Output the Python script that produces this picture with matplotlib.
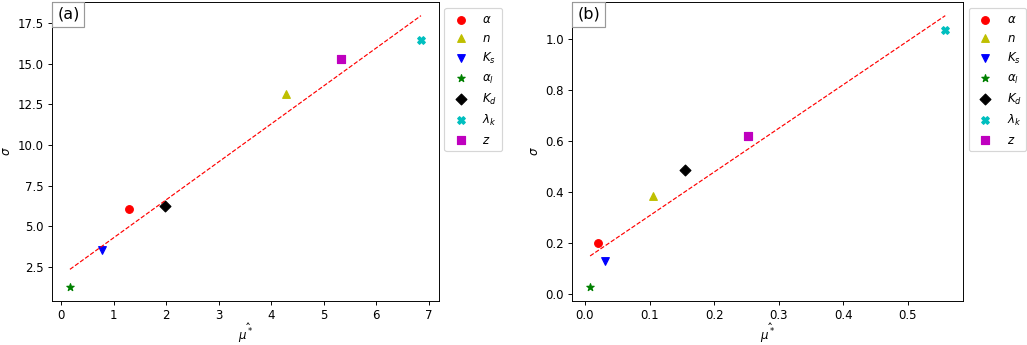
import matplotlib
matplotlib.use("Agg")
import matplotlib.pyplot as plt
import numpy as np
from matplotlib.offsetbox import AnchoredText

labels = [r"$\alpha$", r"$n$", r"$K_s$", r"$\alpha_l$", r"$K_d$", r"$\lambda_k$", r"$z$"]
markers = ["o", "^", "v", "*", "D", "X", "s"]
colors = ["r", "y", "b", "g", "k", "c", "m"]

# panel (a)
mu_a = [1.30, 4.28, 0.78, 0.17, 1.98, 6.85, 5.32]
sigma_a = [6.05, 13.15, 3.55, 1.25, 6.25, 16.45, 15.30]

# panel (b)
mu_b = [0.020, 0.105, 0.031, 0.008, 0.155, 0.558, 0.253]
sigma_b = [0.197, 0.385, 0.130, 0.025, 0.487, 1.035, 0.620]


def panel(ax, mu, sigma, tag):
    for x, y, m, c, lab in zip(mu, sigma, markers, colors, labels):
        ax.scatter(x, y, marker=m, color=c, label=lab, s=42)
    # least-squares trend line through the points
    coef = np.polyfit(mu, sigma, 1)
    xs = np.array([min(mu), max(mu)])
    ax.plot(xs, np.polyval(coef, xs), "r--", linewidth=1.0)
    ax.set_xlabel(r"$\hat{\mu^*}$", labelpad=0)
    ax.set_ylabel(r"$\sigma$")
    at = AnchoredText(tag, loc="upper left", prop=dict(size=13.5), borderpad=0.0, pad=0.3)
    at.patch.set_edgecolor("0.6")
    ax.add_artist(at)
    ax.legend(loc="upper left", bbox_to_anchor=(1.0, 1.0))


fig = plt.figure(figsize=(1027 / 85, 345 / 85), dpi=85)
ax1 = fig.add_axes([0.051, 0.128, 0.376, 0.866])
ax2 = fig.add_axes([0.5573, 0.128, 0.3804, 0.866])
panel(ax1, mu_a, sigma_a, "(a)")
panel(ax2, mu_b, sigma_b, "(b)")
ax1.set_xticks(range(0, 8))
fig.savefig("out.png", dpi=85)
